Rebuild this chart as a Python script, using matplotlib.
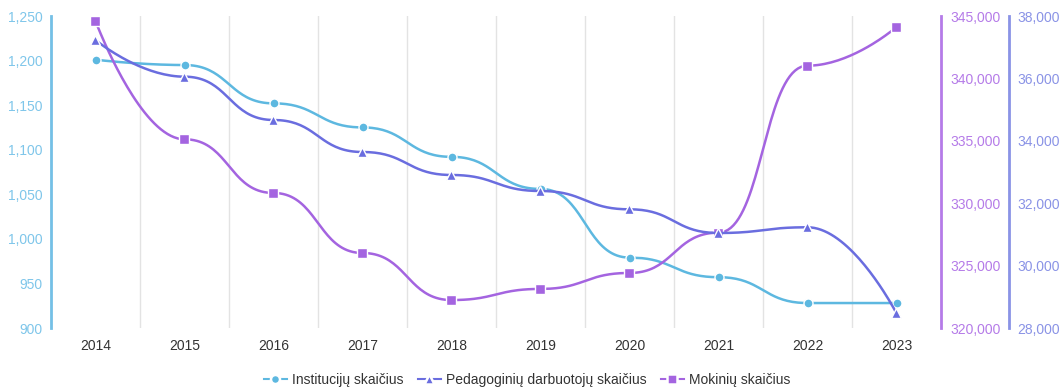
import numpy as np
import matplotlib
matplotlib.use("Agg")
import matplotlib.pyplot as plt
from matplotlib.lines import Line2D

plt.rcParams["font.family"] = ["Liberation Sans", "DejaVu Sans"]

years = ["2014", "2015", "2016", "2017", "2018", "2019", "2020", "2021", "2022", "2023"]
institucijos = [1201, 1195, 1152, 1125, 1092, 1056, 979, 957, 928, 928]
pedagogai = [37230, 36055, 34667, 33641, 32904, 32391, 31804, 31045, 31228, 28471]
mokiniai = [344600, 335120, 330820, 326010, 322240, 323130, 324410, 327640, 341020, 344120]

C_INST = "#5db8e0"
C_PED = "#6a6ddf"
C_MOK = "#a464e0"

W, H = 1062, 388
fig = plt.figure(figsize=(W / 100, H / 100), dpi=100)
left, right, top, bottom = 51, 941, 16, 328
ax = fig.add_axes([left / W, 1 - bottom / H, (right - left) / W, (bottom - top) / H])
ax2 = ax.twinx()
ax3 = ax.twinx()


def smooth_line(xs, ys, smooth=0.5, steps=40):
    # bezier through the points, flat handles at inner points,
    # first/last segment anchored on the end point itself
    xs = np.asarray(xs, float)
    ys = np.asarray(ys, float)
    n = len(xs)
    u = np.linspace(0, 1, steps)
    b = [(1 - u) ** 3, 3 * (1 - u) ** 2 * u, 3 * (1 - u) * u ** 2, u ** 3]
    out_x, out_y = [], []
    for i in range(n - 1):
        dx = xs[i + 1] - xs[i]
        c0 = (xs[i], ys[i]) if i == 0 else (xs[i] + smooth * dx, ys[i])
        c1 = (xs[i + 1], ys[i + 1]) if i == n - 2 else (xs[i + 1] - smooth * dx, ys[i + 1])
        P = [(xs[i], ys[i]), c0, c1, (xs[i + 1], ys[i + 1])]
        sx = sum(b[k] * P[k][0] for k in range(4))
        sy = sum(b[k] * P[k][1] for k in range(4))
        start = 0 if i == 0 else 1
        out_x.extend(sx[start:])
        out_y.extend(sy[start:])
    return np.array(out_x), np.array(out_y)


x = np.arange(len(years))
series = [
    (ax, institucijos, 900, 1250, C_INST, "o", 6.5, "Institucijų skaičius"),
    (ax3, pedagogai, 28000, 38000, C_PED, "^", 7, "Pedagoginių darbuotojų skaičius"),
    (ax2, mokiniai, 320000, 345000, C_MOK, "s", 6.5, "Mokinių skaičius"),
]
handles = []
for a, vals, lo, hi, col, mk, ms, name in series:
    sx, sy = smooth_line(x, vals)
    a.plot(sx, sy, color=col, lw=1.8, zorder=3, solid_capstyle="round")
    a.plot(x, vals, ls="none", marker=mk, ms=ms, mfc=col, mec="white", mew=1.0, zorder=4)
    a.set_ylim(lo, hi)
    handles.append(Line2D([], [], color=col, lw=1.5, marker=mk, ms=6.5,
                          mfc=col, mec="white", mew=1.8, label=name))

for a in (ax, ax2, ax3):
    a.set_xlim(-0.5, len(years) - 0.5)
    for s in a.spines.values():
        s.set_visible(False)
    a.tick_params(axis="y", length=0, labelsize=10)

ax.set_yticks(np.arange(900, 1251, 50))
ax.spines["left"].set_visible(True)
ax.spines["left"].set_color("#74c0e6")
ax.spines["left"].set_linewidth(2)
ax.tick_params(axis="y", colors="#7fc6ea", pad=6)

ax2.set_yticks(np.arange(320000, 345001, 5000))
ax2.spines["right"].set_visible(True)
ax2.spines["right"].set_color("#b57be8")
ax2.spines["right"].set_linewidth(2)
ax2.tick_params(axis="y", colors="#b57be8", pad=7)

ax3.set_yticks(np.arange(28000, 38001, 2000))
ax3.spines["right"].set_visible(True)
ax3.spines["right"].set_position(("outward", 68 * 0.72))
ax3.spines["right"].set_color("#8a93e6")
ax3.spines["right"].set_linewidth(2)
ax3.tick_params(axis="y", colors="#8a93e6", pad=6)

fmt = matplotlib.ticker.FuncFormatter(lambda v, _: f"{v:,.0f}")
for a in (ax, ax2, ax3):
    a.yaxis.set_major_formatter(fmt)

ax.set_xticks(x)
ax.set_xticklabels(years)
ax.tick_params(axis="x", length=0, labelsize=10, colors="#333333", pad=8)
for g in np.arange(0.5, len(years) - 1, 1.0):
    ax.axvline(g, color="#e3e3e3", lw=1, zorder=0)

fig.legend(handles=handles, loc="center", bbox_to_anchor=(527 / W, 1 - 380 / H), ncol=3,
           frameon=False, fontsize=10, handlelength=1.7, handletextpad=0.35,
           columnspacing=1.0, labelcolor="#333333", borderpad=0)

fig.savefig("out.png", dpi=100)
